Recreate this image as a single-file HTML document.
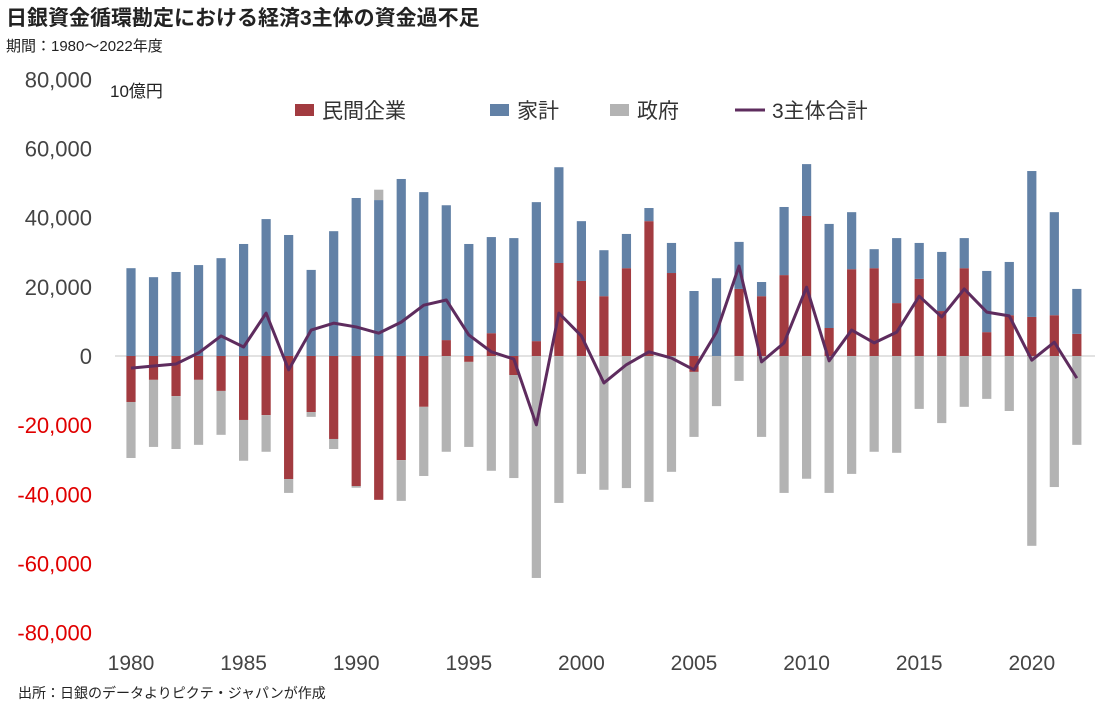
<!DOCTYPE html>
<html><head><meta charset="utf-8">
<style>
body{margin:0;background:#fff;font-family:"Liberation Sans","Noto Sans CJK JP",sans-serif;}
#wrap{position:relative;width:1101px;height:706px;overflow:hidden;}
.t{position:absolute;white-space:nowrap;color:#222;}
</style></head><body>
<div id="wrap">
<div class="t" style="left:6px;top:2px;font-size:21px;font-weight:bold;">日銀資金循環勘定における経済3主体の資金過不足</div>
<div class="t" style="left:6px;top:35px;font-size:15px;">期間：1980～2022年度</div>
<div class="t" style="left:18px;top:683px;font-size:14px;">出所：日銀のデータよりピクテ・ジャパンが作成</div>
<svg id="chart" width="1101" height="706" style="position:absolute;left:0;top:0"></svg>
</div>
<script>
const years=[1980,1981,1982,1983,1984,1985,1986,1987,1988,1989,1990,1991,1992,1993,1994,1995,1996,1997,1998,1999,2000,2001,2002,2003,2004,2005,2006,2007,2008,2009,2010,2011,2012,2013,2014,2015,2016,2017,2018,2019,2020,2021,2022];
const corporate=[-13.3,-6.9,-11.6,-6.9,-10.1,-18.5,-17.1,-35.6,-16.2,-24.0,-37.6,-41.6,-30.1,-14.7,4.6,-1.7,6.6,-5.5,4.3,26.9,21.7,17.3,25.4,39.0,24.0,-4.6,0,19.4,17.3,23.4,40.5,8.1,25.1,25.4,15.3,22.3,13.0,25.4,6.9,11.8,11.3,11.8,6.4];
const household=[25.4,22.8,24.3,26.3,28.3,32.4,39.6,35.0,24.9,36.1,45.7,45.1,51.2,47.4,39.0,32.4,27.8,34.1,40.2,27.7,17.3,13.3,9.9,3.8,8.7,18.8,22.5,13.6,4.1,19.7,15.0,30.1,16.5,5.5,18.8,10.4,17.1,8.7,17.7,15.4,42.2,29.8,13.0];
const government=[-16.2,-19.4,-15.3,-18.8,-12.7,-11.8,-10.6,-4.0,-1.4,-2.9,-0.5,3.0,-11.8,-20.0,-27.7,-24.6,-33.2,-29.8,-64.2,-42.5,-34.1,-38.7,-38.2,-42.2,-33.5,-18.8,-14.5,-7.2,-23.4,-39.6,-35.5,-39.6,-34.1,-27.7,-28.0,-15.3,-19.4,-14.7,-12.4,-15.9,-54.9,-37.9,-25.7];
const total=[-3.5,-2.9,-2.3,0.9,5.8,2.6,12.4,-4.0,7.5,9.5,8.4,6.6,9.8,14.7,16.2,6.1,1.2,-0.9,-19.9,12.4,5.8,-7.8,-2.5,1.2,-0.6,-4.0,6.9,26.0,-1.7,3.8,19.9,-1.4,7.5,3.8,6.9,17.3,11.3,19.4,12.7,11.6,-1.2,4.0,-6.4];
const yTicks=[80000,60000,40000,20000,0,-20000,-40000,-60000,-80000];
const xTicks=[1980,1985,1990,1995,2000,2005,2010,2015,2020];

const NS='http://www.w3.org/2000/svg';
const svg=document.getElementById('chart');
const y=v=>356-v*3.4575;           // v in thousands (10億円 ×1000)
const x=yr=>131+(yr-1980)*22.52;
function mk(t,a){const e=document.createElementNS(NS,t);for(const k in a)e.setAttribute(k,a[k]);svg.appendChild(e);return e;}

yTicks.forEach(t=>{
  const e=mk('text',{x:92,y:y(t/1000)+8,'text-anchor':'end','font-size':22,fill:t<0?'#e00000':'#444'});
  
  
  e.textContent=t.toLocaleString('en-US');
});
xTicks.forEach(t=>{
  const e=mk('text',{x:x(t),y:670,'text-anchor':'middle','font-size':21,fill:'#444'});
  
  
  e.textContent=t;
});
const unit=mk('text',{x:110,y:97,'font-size':17,fill:'#222'});


unit.textContent='10億円';

const zl=mk('line',{x1:115,x2:1095,y1:y(0),y2:y(0),stroke:'#d9d9d9','stroke-width':1.5});



const series=[['corporate',corporate,'#a23b40'],['household',household,'#6281a6'],['government',government,'#b3b3b3']];
years.forEach((yr,i)=>{
  let pos=0,neg=0;
  series.forEach(([nm,arr,col])=>{
    const v=arr[i]; if(!v) return;
    let y0,y1;
    if(v>0){y0=pos;y1=pos+v;pos=y1;}else{y0=neg;y1=neg+v;neg=y1;}
    const top=Math.min(y(y0),y(y1)),h=Math.abs(y(y1)-y(y0));
    const r=mk('rect',{x:x(yr)-4.6,y:top,width:9.2,height:h,fill:col});
    
    
  });
});
const pts=years.map((yr,i)=>x(yr)+','+y(total[i])).join(' ');
const pl=mk('polyline',{points:pts,fill:'none',stroke:'#5e2c5e','stroke-width':3,'stroke-linejoin':'round'});



const leg=[['民間企業','#a23b40',295,'rect'],['家計','#6281a6',490,'rect'],['政府','#b3b3b3',610,'rect'],['3主体合計','#5e2c5e',735,'line']];
leg.forEach(([lab,col,lx,kind])=>{
  let s;
  if(kind==='rect') s=mk('rect',{x:lx,y:104,width:19,height:12,fill:col});
  else s=mk('line',{x1:lx,x2:lx+30,y1:110,y2:110,stroke:col,'stroke-width':3});
  
  
  const t=mk('text',{x:lx+(kind==='rect'?27:37),y:118,'font-size':21,fill:'#333'});
  
  
  t.textContent=lab;
});
</script>
</body></html>
